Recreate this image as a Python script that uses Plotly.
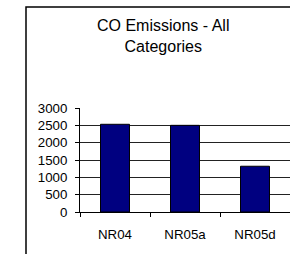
import plotly.graph_objects as go

categories = ["NR04", "NR05a", "NR05d"]
values = [2530, 2500, 1320]
y_ticks = [0, 500, 1000, 1500, 2000, 2500, 3000]
title_text = "CO Emissions - All<br>Categories"

FONT = "Liberation Sans, Arial, sans-serif"

fig = go.Figure(
    go.Bar(
        x=categories,
        y=values,
        marker=dict(color="#000080", line=dict(color="black", width=1)),
    )
)

W, H = 290, 254
# plot area in pixels: x 80..290, y 108..212 (top..bottom)
X0, X1, YT, YB = 80, 290, 108, 212

def fx(xp):
    return xp / W

def fy(yp):
    return (H - yp) / H

fig.update_layout(
    width=W,
    height=H,
    margin=dict(l=0, r=0, t=0, b=0, autoexpand=False),
    paper_bgcolor="white",
    plot_bgcolor="white",
    bargap=0.586,
    showlegend=False,
    font=dict(family=FONT, color="black", size=13),
)

fig.update_yaxes(
    domain=[fy(YB), fy(YT)],
    automargin=False,
    range=[0, 3000],
    tickvals=y_ticks,
    showgrid=True,
    gridcolor="#222222",
    gridwidth=1,
    showline=True,
    linecolor="black",
    linewidth=1,
    ticks="outside",
    ticklen=4,
    tickcolor="black",
    ticklabelstandoff=5,
    tickfont=dict(family=FONT, size=13.3, color="black"),
    zeroline=False,
    fixedrange=True,
)

fig.update_xaxes(
    domain=[fx(X0), fx(X1)],
    automargin=False,
    showgrid=False,
    showline=True,
    linecolor="black",
    linewidth=1,
    ticks="outside",
    tickson="boundaries",
    ticklen=4,
    tickcolor="black",
    ticklabelstandoff=10,
    tickfont=dict(family=FONT, size=13.3, color="black"),
    fixedrange=True,
)

# chart frame (left and top edges visible in the cropped view)
fig.add_shape(type="path", xref="paper", yref="paper",
              path=f"M {fx(26)},{fy(254)} L {fx(26)},{fy(7)} L {fx(290)},{fy(7)}",
              line=dict(color="black", width=1.5))

fig.add_annotation(
    text=title_text,
    xref="paper", yref="paper",
    x=fx(163), y=fy(36),
    xanchor="center", yanchor="middle",
    showarrow=False,
    font=dict(family=FONT, size=16, color="black"),
)

fig.write_html(
    "out.html",
    config={"displayModeBar": False},
    post_script=(
        "document.documentElement.style.overflow='hidden';"
        "document.body.style.margin='0';"
        "document.body.style.overflow='hidden';"
    ),
)
